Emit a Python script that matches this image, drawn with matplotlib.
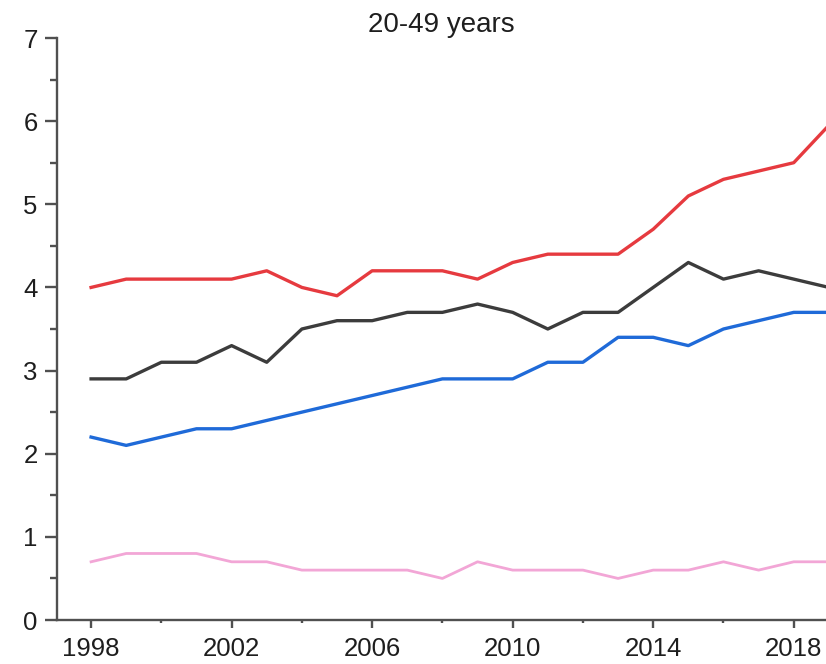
import matplotlib
matplotlib.use("Agg")
import matplotlib.pyplot as plt
from matplotlib.ticker import MultipleLocator

plt.rcParams['font.family'] = ['Liberation Sans', 'DejaVu Sans']

# Data
years = list(range(1998, 2020))
red = [4.0, 4.1, 4.1, 4.1, 4.1, 4.2, 4.0, 3.9, 4.2, 4.2, 4.2, 4.1, 4.3, 4.4, 4.4, 4.4, 4.7, 5.1, 5.3, 5.4, 5.5, 5.95]
black = [2.9, 2.9, 3.1, 3.1, 3.3, 3.1, 3.5, 3.6, 3.6, 3.7, 3.7, 3.8, 3.7, 3.5, 3.7, 3.7, 4.0, 4.3, 4.1, 4.2, 4.1, 4.0]
blue = [2.2, 2.1, 2.2, 2.3, 2.3, 2.4, 2.5, 2.6, 2.7, 2.8, 2.9, 2.9, 2.9, 3.1, 3.1, 3.4, 3.4, 3.3, 3.5, 3.6, 3.7, 3.7]
pink = [0.7, 0.8, 0.8, 0.8, 0.7, 0.7, 0.6, 0.6, 0.6, 0.6, 0.5, 0.7, 0.6, 0.6, 0.6, 0.5, 0.6, 0.6, 0.7, 0.6, 0.7, 0.7]
x_ticks = [1998, 2002, 2006, 2010, 2014, 2018]

W, H = 826, 664
fig = plt.figure(figsize=(W / 100, H / 100), dpi=100)

# axes run past the right edge of the picture (the reference is cropped)
ax = fig.add_axes([57 / W, 1 - 620 / H, 807 / W, 582 / H])

ax.plot(years, pink, color='#f2a6d6', lw=2.0)
ax.plot(years, blue, color='#1f6ad8', lw=2.4)
ax.plot(years, black, color='#3c3c3c', lw=2.4)
ax.plot(years, red, color='#e63a3f', lw=2.4)

ax.set_xlim(1997.03, 2020)
ax.set_ylim(0, 7)
ax.set_xticks(x_ticks)
ax.xaxis.set_minor_locator(MultipleLocator(2))
ax.yaxis.set_major_locator(MultipleLocator(1))
ax.yaxis.set_minor_locator(MultipleLocator(0.5))

for s in ['top', 'right']:
    ax.spines[s].set_visible(False)
for s in ['left', 'bottom']:
    ax.spines[s].set_color('#505050')
    ax.spines[s].set_linewidth(1.7)

ax.tick_params(axis='y', which='major', length=9, width=1.7, color='#505050',
               labelsize=18.5, pad=5, labelcolor='#1e1e1e')
ax.tick_params(axis='y', which='minor', length=5, width=1.7, color='#505050')
ax.tick_params(axis='x', which='major', length=6, width=1.7, color='#505050',
               labelsize=18.5, pad=6, labelcolor='#1e1e1e')
ax.tick_params(axis='x', which='minor', length=2.5, width=1.7, color='#505050')

fig.text(441 / W, 1 - 25 / H, '20-49 years', ha='center', va='center',
         fontsize=20, color='#1e1e1e')

fig.savefig('out.png', dpi=100)
